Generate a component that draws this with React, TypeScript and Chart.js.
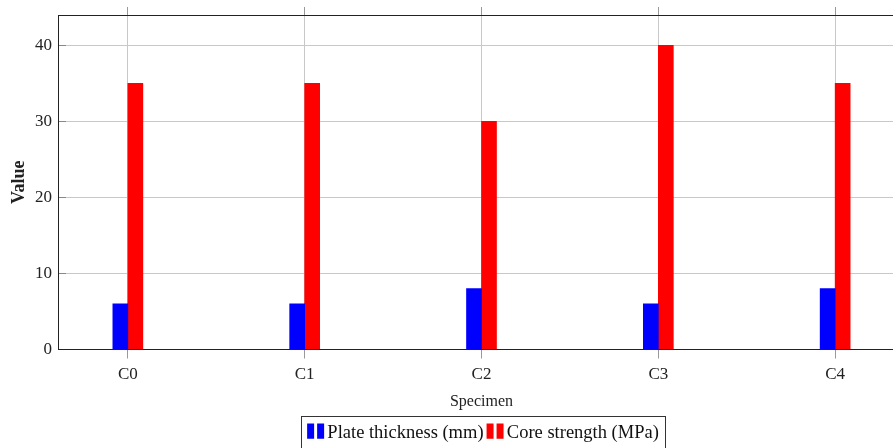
import React, { useEffect, useRef } from 'react';
import { Chart, registerables } from 'chart.js';

Chart.register(...registerables);

const categories = ['C0', 'C1', 'C2', 'C3', 'C4'];
const plateThickness = [6, 6, 8, 6, 8];
const coreStrength = [35, 35, 30, 40, 35];
const yTickValues = [0, 10, 20, 30, 40];
const seriesLabels = ['Plate thickness (mm)', 'Core strength (MPa)'];
const seriesColors = ['#0000ff', '#ff0000'];

const FONT = "'Liberation Serif', 'Times New Roman', serif";
const X_MIN = -0.395;
const X_MAX = 4.395;

function makeMarker(color: string): HTMLCanvasElement {
  const c = document.createElement('canvas');
  c.width = 28;
  c.height = 26;
  const ctx = c.getContext('2d')!;
  ctx.fillStyle = color;
  ctx.fillRect(10, 0, 7, 19);
  ctx.fillRect(20, 0, 7, 19);
  return c;
}

const legendBorder = {
  id: 'legendBorder',
  afterDraw(chart: any) {
    const lg = chart.legend;
    const hb = lg && lg.legendHitBoxes;
    if (!hb || !hb.length) return;
    const left = Math.min(...hb.map((h: any) => h.left));
    const right = Math.max(...hb.map((h: any) => h.left + h.width));
    const top = Math.min(...hb.map((h: any) => h.top));
    const ctx = chart.ctx;
    ctx.save();
    ctx.strokeStyle = '#333';
    ctx.lineWidth = 1;
    const x0 = Math.round(left - 3) + 0.5;
    const x1 = Math.round(right + 6) + 0.5;
    const y0 = Math.round(top - 8) + 0.5;
    ctx.strokeRect(x0, y0, x1 - x0, 60);
    ctx.restore();
  },
};

const categoryTicks = (s: any) => {
  s.ticks = categories.map((_, i) => ({ value: i }));
};

export default function App() {
  const ref = useRef<HTMLCanvasElement | null>(null);

  useEffect(() => {
    if (!ref.current) return;
    const markers = seriesColors.map(makeMarker);
    const values = [plateThickness, coreStrength];
    const chart = new Chart(ref.current, {
      type: 'bar',
      data: {
        datasets: values.map((vals, si) => ({
          label: seriesLabels[si],
          data: vals.map((v, i) => ({ x: i, y: v })),
          backgroundColor: seriesColors[si],
          borderWidth: 0,
          barThickness: 15,
          xAxisID: 'x',
          yAxisID: 'y',
        })),
      },
      options: {
        responsive: false,
        animation: false,
        devicePixelRatio: 1,
        layout: { padding: { left: 0, right: 10, top: 0, bottom: 8 } },
        plugins: {
          tooltip: { enabled: false },
          legend: {
            position: 'bottom',
            fullSize: false,
            labels: {
              usePointStyle: true,
              pointStyleWidth: 14,
              boxHeight: 18,
              padding: 0,
              color: '#111',
              font: { family: FONT, size: 18.5 },
              generateLabels: () =>
                seriesLabels.map((t, i) => ({
                  text: t,
                  fillStyle: seriesColors[i],
                  strokeStyle: seriesColors[i],
                  lineWidth: 0,
                  pointStyle: markers[i],
                  hidden: false,
                  datasetIndex: i,
                  fontColor: '#111',
                })),
            },
          },
        },
        scales: {
          x: {
            type: 'linear',
            position: 'bottom',
            offset: false,
            min: X_MIN,
            max: X_MAX,
            afterBuildTicks: categoryTicks,
            afterFit: (s: any) => {
              s.height = 74;
              s.paddingLeft = 0;
              s.paddingRight = 0;
            },
            ticks: {
              callback: (v: any) => categories[v] ?? '',
              font: { family: FONT, size: 17 },
              color: '#222',
              padding: 6,
              maxRotation: 0,
              autoSkip: false,
            },
            grid: { offset: false, color: '#c8c8c8', lineWidth: 1, drawTicks: true, tickLength: 9, tickColor: '#999' },
            border: { display: true, color: '#222', width: 1 },
            title: {
              display: true,
              text: 'Specimen',
              font: { family: FONT, size: 16 },
              color: '#222',
              padding: { top: 0, bottom: 12 },
            },
          },
          x2: {
            type: 'linear',
            position: 'top',
            offset: false,
            min: X_MIN,
            max: X_MAX,
            afterBuildTicks: categoryTicks,
            afterFit: (s: any) => {
              s.height = 15;
              s.paddingLeft = 0;
              s.paddingRight = 0;
            },
            ticks: { display: false },
            grid: { offset: false, drawOnChartArea: false, drawTicks: true, tickLength: 8, tickColor: '#999', color: '#c8c8c8' },
            border: { display: true, color: '#222', width: 1 },
          },
          y: {
            type: 'linear',
            min: 0,
            max: 44,
            afterBuildTicks: (s: any) => {
              s.ticks = yTickValues.map((v) => ({ value: v }));
            },
            afterFit: (s: any) => {
              s.width = 58;
              s.paddingTop = 0;
              s.paddingBottom = 0;
            },
            ticks: {
              font: { family: FONT, size: 17 },
              color: '#222',
              padding: 14,
            },
            grid: { color: '#c8c8c8', lineWidth: 1, drawTicks: true, tickLength: -8, tickColor: '#888' },
            border: { display: true, color: '#222', width: 1 },
            title: {
              display: true,
              text: 'Value',
              font: { family: FONT, size: 18, weight: 'bold' },
              color: '#222',
              padding: { top: 9, bottom: 0 },
            },
          },
        },
      },
      plugins: [legendBorder],
    } as any);
    return () => chart.destroy();
  }, []);

  return (
    <div style={{ position: 'absolute', left: 0, top: 0, width: 893, height: 448, overflow: 'hidden', background: '#fff' }}>
      <canvas ref={ref} width={915} height={460} style={{ width: 915, height: 460, display: 'block' }} />
    </div>
  );
}
